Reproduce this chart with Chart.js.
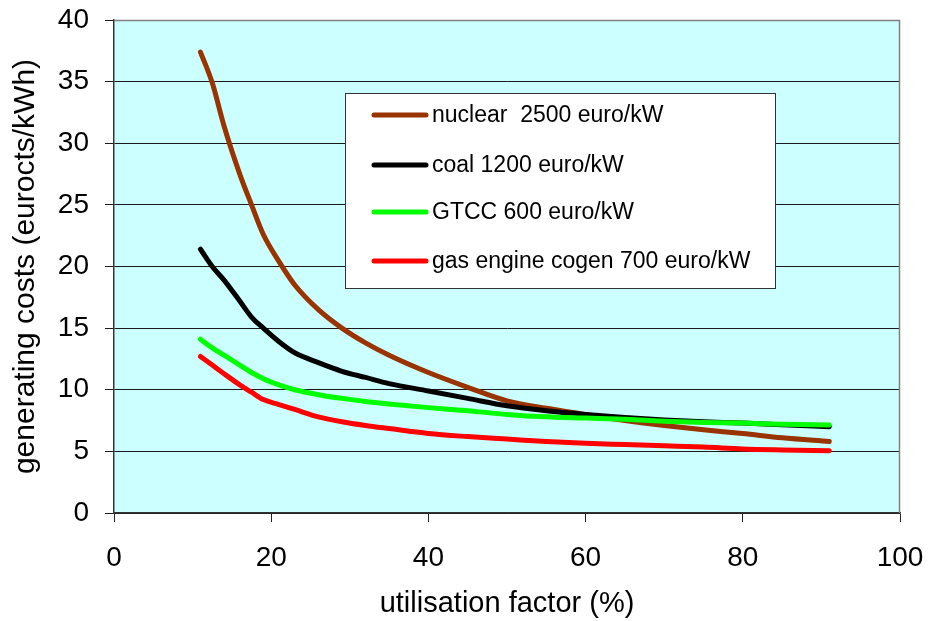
<!DOCTYPE html>
<html>
<head>
<meta charset="utf-8">
<script src="https://cdn.jsdelivr.net/npm/chart.js@4"></script>
<style>
    html, body { margin: 0; padding: 0; background: #fff; }
    #wrap { width: 930px; height: 621px; }
</style>
</head>
<body>
<div id="wrap"><canvas id="costChart" width="930" height="621"></canvas></div>
<script>
// utilisation factor (%) where the curves are read
const utilisation = [11, 12.5, 14, 16, 17.5, 19, 21, 23, 26, 29, 32, 35, 40, 45, 50, 55, 60, 65, 70, 75, 80, 85, 91];

// generating costs (eurocts/kWh)
const nuclear = [37.4, 34.9, 31.4, 27.5, 25.0, 22.6, 20.4, 18.5, 16.5, 15.0, 13.8, 12.8, 11.4, 10.2, 9.1, 8.5, 8.0, 7.5, 7.1, 6.75, 6.45, 6.1, 5.8];
const coal = [21.4, 20.0, 18.9, 17.2, 15.9, 15.0, 13.9, 13.0, 12.2, 11.5, 11.0, 10.5, 9.9, 9.3, 8.7, 8.3, 8.0, 7.75, 7.55, 7.4, 7.3, 7.15, 7.0];
const gtcc = [14.1, 13.4, 12.8, 12.0, 11.4, 10.9, 10.4, 10.0, 9.6, 9.3, 9.05, 8.85, 8.55, 8.3, 8.0, 7.8, 7.7, 7.6, 7.45, 7.35, 7.3, 7.2, 7.15];
const gasEngine = [12.7, 12.0, 11.3, 10.4, 9.8, 9.2, 8.8, 8.4, 7.8, 7.4, 7.1, 6.85, 6.45, 6.2, 6.0, 5.8, 5.65, 5.55, 5.45, 5.35, 5.2, 5.12, 5.05];

const seriesLabels = ['nuclear  2500 euro/kW', 'coal 1200 euro/kW', 'GTCC 600 euro/kW', 'gas engine cogen 700 euro/kW'];
const seriesColors = ['#993300', '#000000', '#00ff00', '#ff0000'];

const FONT = "'Liberation Sans', Arial, sans-serif";

function points(values) {
    return utilisation.map((x, i) => ({ x: x, y: values[i] }));
}

// plot area fill and frame, like the spreadsheet original
const plotArea = {
    id: 'plotArea',
    beforeDraw(chart) {
        const { ctx, chartArea: a } = chart;
        ctx.save();
        ctx.fillStyle = '#ccffff';
        ctx.fillRect(a.left, a.top, a.right - a.left, a.bottom - a.top);
        ctx.restore();
    },
    afterDatasetsDraw(chart) {
        const { ctx, chartArea: a } = chart;
        ctx.save();
        ctx.strokeStyle = '#808080';
        ctx.lineWidth = 1.5;
        ctx.beginPath();
        ctx.moveTo(a.left, a.top + 0.5);
        ctx.lineTo(a.right - 0.5, a.top + 0.5);
        ctx.lineTo(a.right - 0.5, a.bottom);
        ctx.stroke();
        ctx.restore();
    }
};

// legend box inside the plot
const boxLegend = {
    id: 'boxLegend',
    afterDatasetsDraw(chart) {
        const ctx = chart.ctx;
        const left = 345, top = 93, w = 430, h = 195;
        const rows = [115, 165, 212, 261];
        ctx.save();
        ctx.fillStyle = '#ffffff';
        ctx.fillRect(left, top, w, h);
        ctx.strokeStyle = '#333333';
        ctx.lineWidth = 1;
        ctx.strokeRect(left + 0.5, top + 0.5, w, h);
        ctx.lineCap = 'round';
        ctx.lineWidth = 5;
        ctx.font = '23px ' + FONT;
        ctx.textBaseline = 'middle';
        seriesLabels.forEach((label, i) => {
            ctx.strokeStyle = seriesColors[i];
            ctx.beginPath();
            ctx.moveTo(374, rows[i]);
            ctx.lineTo(426, rows[i]);
            ctx.stroke();
            ctx.fillStyle = '#000';
            ctx.fillText(label, 432, rows[i] + 1);
        });
        ctx.restore();
    }
};

const data = [nuclear, coal, gtcc, gasEngine];

new Chart(document.getElementById('costChart'), {
    type: 'line',
    data: {
        datasets: data.map((values, i) => ({
            label: seriesLabels[i],
            data: points(values),
            borderColor: seriesColors[i],
            backgroundColor: seriesColors[i],
            borderWidth: 5,
            borderCapStyle: 'round',
            borderJoinStyle: 'round',
            pointRadius: 0,
            cubicInterpolationMode: 'monotone',
            fill: false,
            order: 4 - i
        }))
    },
    options: {
        responsive: false,
        animation: false,
        layout: { padding: { top: 20, right: 30, left: 0, bottom: 0 } },
        plugins: {
            legend: { display: false },
            tooltip: { enabled: false }
        },
        scales: {
            x: {
                type: 'linear',
                min: 0,
                max: 100,
                afterFit(scale) {
                    scale.height = 108;
                    scale.paddingLeft = 0;
                    scale.paddingRight = 0;
                },
                ticks: {
                    stepSize: 20,
                    color: '#000',
                    padding: 19,
                    font: { family: FONT, size: 28 }
                },
                grid: {
                    drawOnChartArea: false,
                    drawTicks: true,
                    tickLength: 9,
                    color: '#222'
                },
                border: { color: '#333', width: 1.5 },
                title: {
                    display: true,
                    text: 'utilisation factor (%)',
                    color: '#000',
                    padding: { top: 0, bottom: 0 },
                    font: { family: FONT, size: 29 }
                }
            },
            y: {
                min: 0,
                max: 40,
                afterFit(scale) {
                    scale.width = 114;
                    scale.paddingTop = 0;
                    scale.paddingBottom = 0;
                },
                ticks: {
                    stepSize: 5,
                    color: '#000',
                    padding: 16,
                    font: { family: FONT, size: 28 }
                },
                grid: {
                    color: '#1a1a1a',
                    lineWidth: 1,
                    tickLength: 9
                },
                border: { color: '#333', width: 1.5 },
                title: {
                    display: true,
                    text: 'generating costs (eurocts/kWh)',
                    color: '#000',
                    padding: { top: 8, bottom: 0 },
                    font: { family: FONT, size: 30 }
                }
            }
        }
    },
    plugins: [plotArea, boxLegend]
});
</script>
</body>
</html>
